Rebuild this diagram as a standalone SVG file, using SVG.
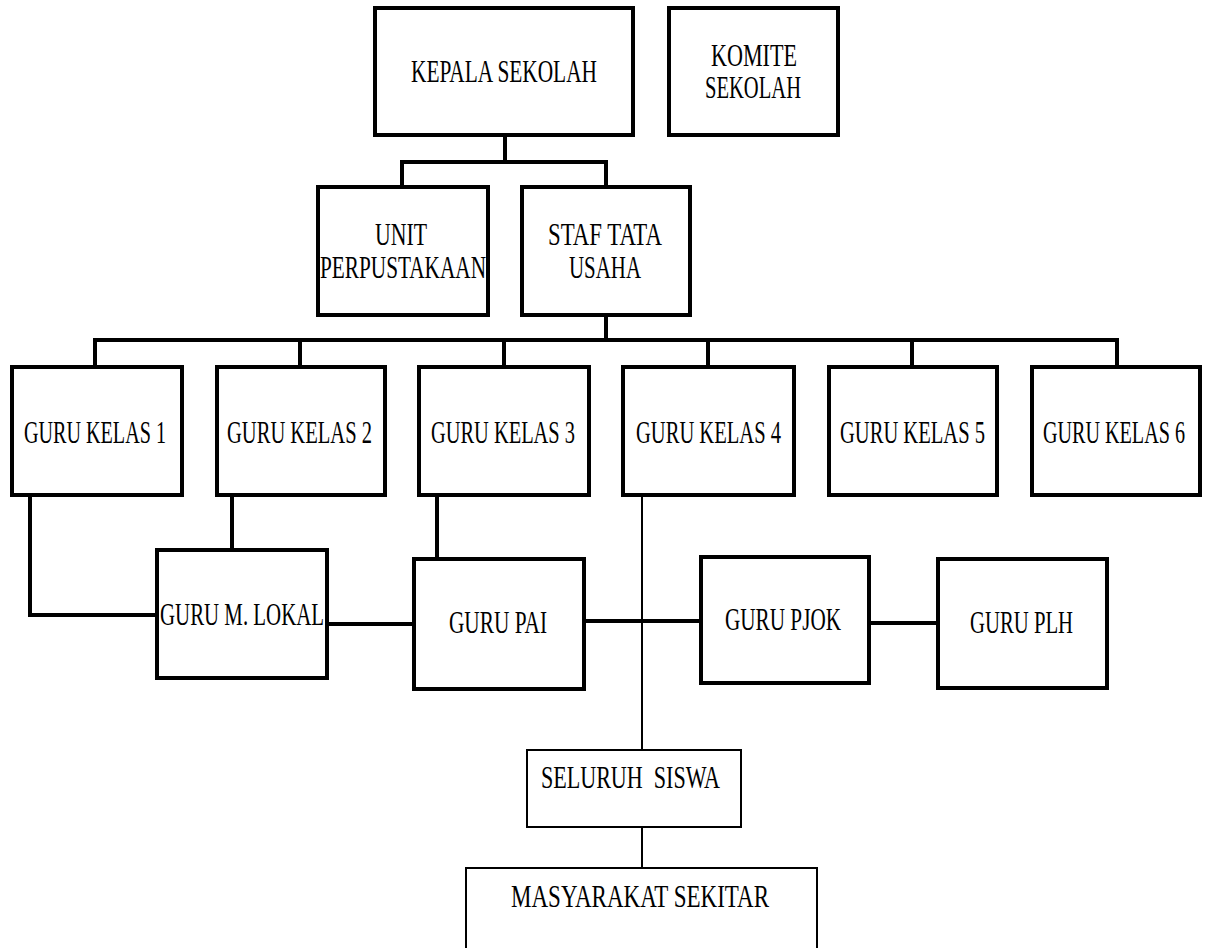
<svg xmlns="http://www.w3.org/2000/svg" width="1211" height="948" viewBox="0 0 1211 948">
<style>
.box{fill:#fff;stroke:#000;stroke-width:4}
.tbox{fill:#fff;stroke:#000;stroke-width:2}
.t{font-family:"Liberation Serif","Times New Roman",serif;font-size:31px;fill:#000;text-anchor:start}
.c{fill:none;stroke:#000;stroke-width:4}
.cn{fill:none;stroke:#000;stroke-width:2}
</style>
<rect width="1211" height="948" fill="#fff"/>
<g id="connectors">
<path class="c" d="M505 136V162M402 162H608M402 160V187M606 160V187"/>
<path class="c" d="M606 316V340M95 340H1119M95 338V367M300 338V367M504 338V367M708 338V367M912 338V367M1117 338V367"/>
<path class="c" d="M30 495V615H157"/>
<path class="c" d="M232 495V550"/>
<path class="c" d="M437 495V559"/>
<path class="c" d="M327 624H414"/>
<path class="c" d="M584 621H701"/>
<path class="c" d="M869 623H938"/>
<path class="cn" d="M642 495V750M642 827V868"/>
</g>
<g id="kepala"><rect class="box" x="375" y="8" width="258" height="127"/><text class="t" transform="translate(411 82) scale(0.68 1)" textLength="273.5" lengthAdjust="spacingAndGlyphs">KEPALA SEKOLAH</text></g>
<g id="komite"><rect class="box" x="669" y="8" width="169" height="127"/><text class="t" transform="translate(711 66) scale(0.68 1)" textLength="126.5" lengthAdjust="spacingAndGlyphs">KOMITE</text><text class="t" transform="translate(705 98) scale(0.68 1)" textLength="141.2" lengthAdjust="spacingAndGlyphs">SEKOLAH</text></g>
<g id="unit"><rect class="box" x="318" y="187" width="170" height="128"/><text class="t" transform="translate(375 245) scale(0.68 1)" textLength="76.5" lengthAdjust="spacingAndGlyphs">UNIT</text><text class="t" transform="translate(320 278) scale(0.68 1)" textLength="244.1" lengthAdjust="spacingAndGlyphs">PERPUSTAKAAN</text></g>
<g id="staf"><rect class="box" x="522" y="187" width="168" height="128"/><text class="t" transform="translate(548 245) scale(0.68 1)" textLength="167.6" lengthAdjust="spacingAndGlyphs">STAF TATA</text><text class="t" transform="translate(569 278) scale(0.68 1)" textLength="105.9" lengthAdjust="spacingAndGlyphs">USAHA</text></g>
<g id="kelas1"><rect class="box" x="12" y="367" width="170" height="128"/><text class="t" transform="translate(24 443) scale(0.68 1)" textLength="208.8" lengthAdjust="spacingAndGlyphs">GURU KELAS 1</text></g>
<g id="kelas2"><rect class="box" x="217" y="367" width="168" height="128"/><text class="t" transform="translate(227 443) scale(0.68 1)" textLength="213.2" lengthAdjust="spacingAndGlyphs">GURU KELAS 2</text></g>
<g id="kelas3"><rect class="box" x="419" y="367" width="170" height="128"/><text class="t" transform="translate(431 443) scale(0.68 1)" textLength="211.8" lengthAdjust="spacingAndGlyphs">GURU KELAS 3</text></g>
<g id="kelas4"><rect class="box" x="623" y="367" width="171" height="128"/><text class="t" transform="translate(636 443) scale(0.68 1)" textLength="213.2" lengthAdjust="spacingAndGlyphs">GURU KELAS 4</text></g>
<g id="kelas5"><rect class="box" x="829" y="367" width="168" height="128"/><text class="t" transform="translate(840 443) scale(0.68 1)" textLength="213.2" lengthAdjust="spacingAndGlyphs">GURU KELAS 5</text></g>
<g id="kelas6"><rect class="box" x="1032" y="367" width="168" height="128"/><text class="t" transform="translate(1043 443) scale(0.68 1)" textLength="208.8" lengthAdjust="spacingAndGlyphs">GURU KELAS 6</text></g>
<g id="lokal"><rect class="box" x="157" y="550" width="170" height="128"/><text class="t" transform="translate(160 625) scale(0.68 1)" textLength="241.2" lengthAdjust="spacingAndGlyphs">GURU M. LOKAL</text></g>
<g id="pai"><rect class="box" x="414" y="559" width="170" height="130"/><text class="t" transform="translate(449 633) scale(0.68 1)" textLength="144.1" lengthAdjust="spacingAndGlyphs">GURU PAI</text></g>
<g id="pjok"><rect class="box" x="701" y="557" width="168" height="126"/><text class="t" transform="translate(725 630) scale(0.68 1)" textLength="170.6" lengthAdjust="spacingAndGlyphs">GURU PJOK</text></g>
<g id="plh"><rect class="box" x="938" y="559" width="169" height="129"/><text class="t" transform="translate(970 633) scale(0.68 1)" textLength="151.5" lengthAdjust="spacingAndGlyphs">GURU PLH</text></g>
<g id="siswa"><rect class="tbox" x="527" y="750" width="214" height="77"/><text class="t" transform="translate(541 788) scale(0.68 1)" textLength="263.2" lengthAdjust="spacingAndGlyphs" xml:space="preserve">SELURUH  SISWA</text></g>
<g id="masyarakat"><rect class="tbox" x="466" y="868" width="351" height="100"/><text class="t" transform="translate(511 907) scale(0.68 1)" textLength="379.4" lengthAdjust="spacingAndGlyphs">MASYARAKAT SEKITAR</text></g>
</svg>
